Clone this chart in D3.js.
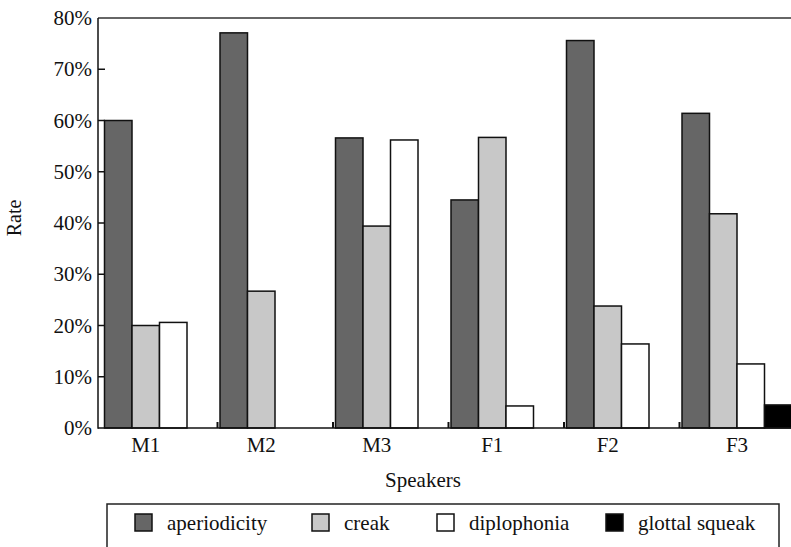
<!DOCTYPE html>
<html>
<head>
<meta charset="utf-8">
<script src="https://cdn.jsdelivr.net/npm/d3@7"></script>
<style>
  html, body { margin: 0; padding: 0; background: #fff; }
  svg { display: block; }
</style>
</head>
<body>
<svg id="chart" width="791" height="547"></svg>
<script>
// ---- data ----
const speakers = ["M1", "M2", "M3", "F1", "F2", "F3"];
const seriesNames = ["aperiodicity", "creak", "diplophonia", "glottal squeak"];
const aperiodicity = [60.0, 77.1, 56.6, 44.5, 75.6, 61.4];
const creak = [20.0, 26.7, 39.4, 56.7, 23.8, 41.8];
const diplophonia = [20.6, 0, 56.2, 4.3, 16.4, 12.5];
const glottalSqueak = [null, null, null, null, null, 4.5];
const yTicks = [0, 10, 20, 30, 40, 50, 60, 70, 80];
const seriesColors = ["#666666", "#c8c8c8", "#ffffff", "#000000"];

const seriesValues = [aperiodicity, creak, diplophonia, glottalSqueak];

// ---- layout ----
const FONT = "'Liberation Serif', 'Times New Roman', Times, 'DejaVu Serif', serif";
const W = 791, H = 547;
const axisX = 98, plotTop = 18, plotBottom = 428;
const svg = d3.select("#chart");

const y = d3.scaleLinear().domain([0, 80]).range([plotBottom, plotTop]);
const x = d3.scaleBand().domain(speakers).range([102.5, 795.5]).paddingInner(0).paddingOuter(0);
const xs = d3.scaleBand().domain(seriesNames).range([2, 112]).padding(0);

function txt(sel, size) {
  return sel.style("font-family", FONT).style("font-size", size + "px").style("fill", "#111");
}

// plot frame top line
svg.append("line").attr("x1", axisX).attr("x2", W + 10).attr("y1", plotTop).attr("y2", plotTop)
  .attr("stroke", "#333").attr("stroke-width", 1.5);

// category boundary ticks on x axis (drawn behind bars)
speakers.slice(1).forEach(s => {
  svg.append("line").attr("x1", x(s) - 0.5).attr("x2", x(s) - 0.5)
    .attr("y1", plotBottom).attr("y2", plotBottom - 6)
    .attr("stroke", "#111").attr("stroke-width", 2);
});

// bars
seriesNames.forEach((name, si) => {
  const vals = seriesValues[si];
  svg.append("g").selectAll("rect")
    .data(speakers.map((s, i) => ({ s, v: vals[i] })).filter(d => d.v !== null && d.v > 0))
    .join("rect")
    .attr("x", d => x(d.s) + xs(name))
    .attr("width", xs.bandwidth())
    .attr("y", d => y(d.v))
    .attr("height", d => plotBottom - y(d.v))
    .attr("fill", seriesColors[si])
    .attr("stroke", "#111")
    .attr("stroke-width", 1.5);
});

// y axis
const yAxis = d3.axisLeft(y).tickValues(yTicks).tickFormat(d => d + "%").tickSize(0).tickPadding(6);
const gy = svg.append("g").attr("transform", `translate(${axisX},0)`).call(yAxis);
gy.select(".domain").remove();
gy.attr("font-family", null).attr("font-size", null);
txt(gy.selectAll("text"), 21);
// inward ticks
svg.append("g").selectAll("line").data(yTicks.filter(t => t > 0 && t < 80)).join("line")
  .attr("x1", axisX).attr("x2", axisX + 7)
  .attr("y1", d => y(d)).attr("y2", d => y(d))
  .attr("stroke", "#111").attr("stroke-width", 1.5);
svg.append("line").attr("x1", axisX).attr("x2", axisX).attr("y1", plotTop).attr("y2", plotBottom + 0.75)
  .attr("stroke", "#111").attr("stroke-width", 1.5);

// x axis line
svg.append("line").attr("x1", axisX).attr("x2", W + 10).attr("y1", plotBottom).attr("y2", plotBottom)
  .attr("stroke", "#111").attr("stroke-width", 1.5);

// category labels: centered on the bars present in each category
speakers.forEach((s, i) => {
  const present = seriesNames.filter((n, si) => seriesValues[si][i] !== null);
  const x0 = x(s) + xs(present[0]);
  const x1 = x(s) + xs(present[present.length - 1]) + xs.bandwidth();
  txt(svg.append("text").attr("x", (x0 + x1) / 2).attr("y", 452)
    .attr("text-anchor", "middle"), 21).text(s);
});

// axis titles
txt(svg.append("text").attr("x", 423).attr("y", 487).attr("text-anchor", "middle"), 21).text("Speakers");
txt(svg.append("text").attr("transform", "translate(21,218) rotate(-90)").attr("text-anchor", "middle"), 20).text("Rate");

// legend
svg.append("rect").attr("x", 107).attr("y", 504).attr("width", 672).attr("height", 60)
  .attr("fill", "none").attr("stroke", "#222").attr("stroke-width", 1.5);
const legendX = [135, 312, 437, 606];
seriesNames.forEach((name, si) => {
  svg.append("rect").attr("x", legendX[si]).attr("y", 514).attr("width", 17).attr("height", 17)
    .attr("fill", seriesColors[si]).attr("stroke", "#111").attr("stroke-width", 1.5);
  txt(svg.append("text").attr("x", legendX[si] + 32).attr("y", 530), 21).text(name);
});
</script>
</body>
</html>
